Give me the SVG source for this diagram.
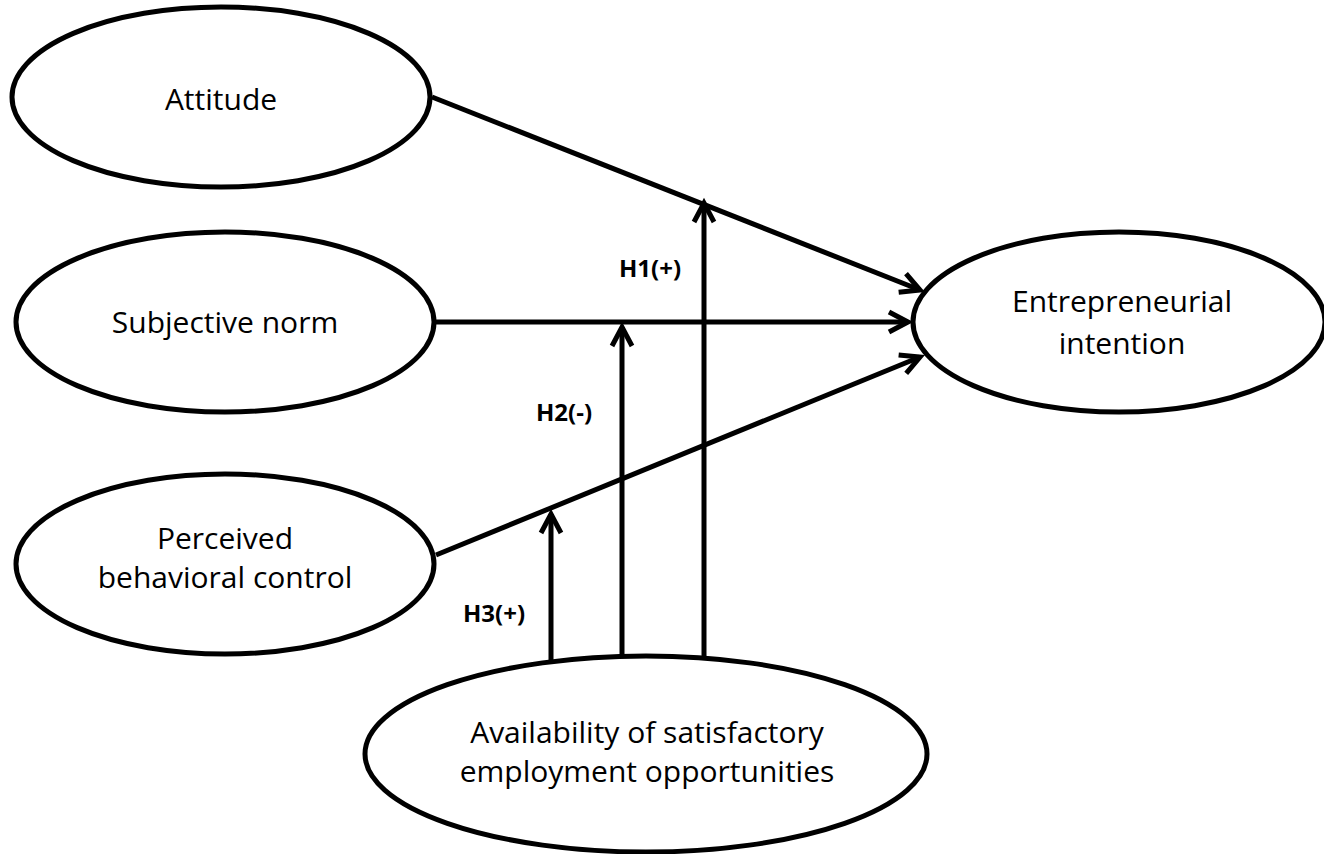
<svg xmlns="http://www.w3.org/2000/svg" width="1324" height="854" viewBox="0 0 1324 854">
<style>
.node ellipse{fill:#fff;stroke:#000;stroke-width:5}
.lbl{font-family:"Open Sans","Liberation Sans",sans-serif;font-size:30px;fill:#000;text-anchor:middle}
.hyp{font-family:"Open Sans","Liberation Sans",sans-serif;font-size:24px;font-weight:bold;fill:#000;text-anchor:middle}
.conn line{stroke:#000;stroke-width:5;fill:none;marker-end:url(#arr)}
</style>
<defs>
<marker id="arr" markerUnits="userSpaceOnUse" orient="auto" overflow="visible" markerWidth="30" markerHeight="30" refX="0" refY="0" viewBox="-25 -15 30 30">
<path d="M-19,-10 L0,0 L-19,10" fill="none" stroke="#000" stroke-width="5" stroke-linejoin="miter"/>
</marker>
</defs>
<rect width="1324" height="854" fill="#fff"/>
<g id="connectors" class="conn">
<line x1="432" y1="97" x2="920" y2="290"/>
<line x1="434" y1="322" x2="908" y2="322"/>
<line x1="436" y1="555" x2="920" y2="357"/>
<line x1="704" y1="662" x2="704" y2="203"/>
<line x1="622" y1="658" x2="622" y2="327"/>
<line x1="551" y1="662" x2="551" y2="514"/>
</g>
<g id="attitude" class="node">
<ellipse cx="221" cy="97" rx="209" ry="90"/>
<text class="lbl" x="221" y="110">Attitude</text>
</g>
<g id="subjective-norm" class="node">
<ellipse cx="225" cy="322" rx="209" ry="90"/>
<text class="lbl" x="225" y="333">Subjective norm</text>
</g>
<g id="perceived-behavioral-control" class="node">
<ellipse cx="225" cy="564" rx="209" ry="90"/>
<text class="lbl" x="225" y="549">Perceived</text>
<text class="lbl" x="225" y="588">behavioral control</text>
</g>
<g id="entrepreneurial-intention" class="node">
<ellipse cx="1119" cy="322" rx="206" ry="90"/>
<text class="lbl" x="1122" y="312">Entrepreneurial</text>
<text class="lbl" x="1122" y="354">intention</text>
</g>
<g id="availability" class="node">
<ellipse cx="646" cy="754" rx="281" ry="98"/>
<text class="lbl" x="647" y="743">Availability of satisfactory</text>
<text class="lbl" x="647" y="782">employment opportunities</text>
</g>
<g id="labels">
<text class="hyp" x="650" y="277">H1(+)</text>
<text class="hyp" x="564" y="421">H2(-)</text>
<text class="hyp" x="494" y="622">H3(+)</text>
</g>
</svg>
